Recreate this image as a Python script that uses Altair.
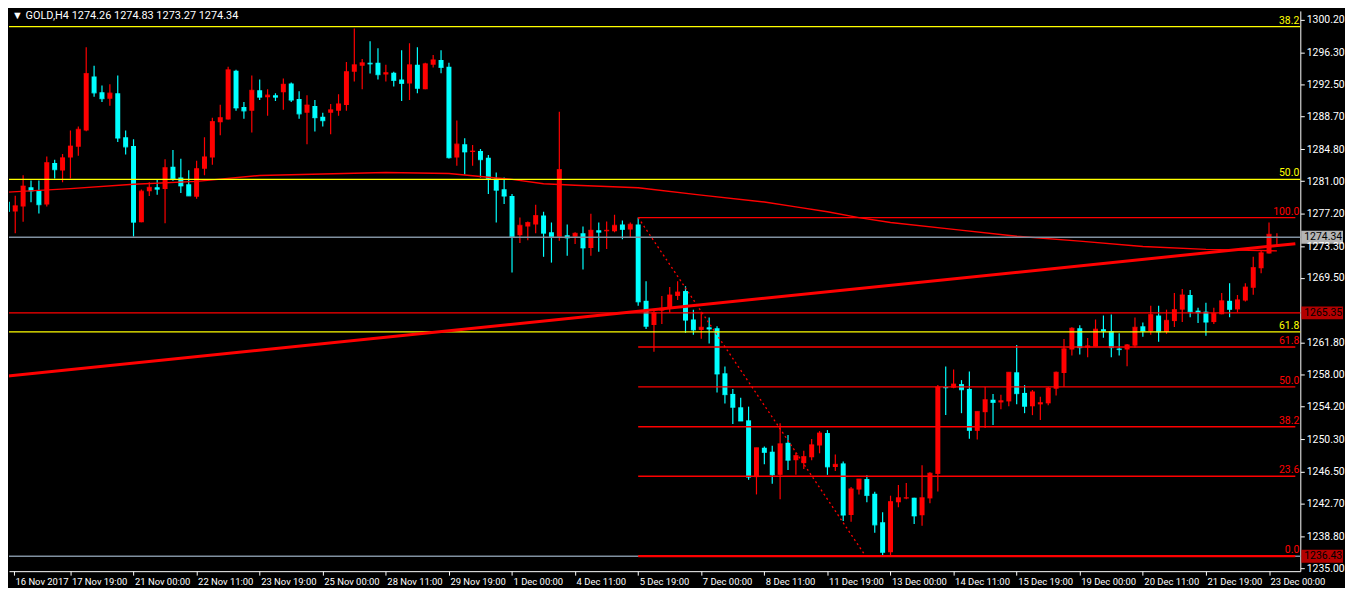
import altair as alt
import pandas as pd

# ---------------- data (GOLD, H4) ----------------
opens = [1278.58, 1277.41, 1277.99, 1280.29, 1279.90, 1278.23, 1283.17, 1282.27, 1283.82, 1285.10,
         1287.05, 1293.45, 1291.59, 1290.81, 1291.47, 1286.22, 1285.18, 1276.13, 1279.82, 1280.29,
         1280.09, 1282.74, 1281.46, 1280.64, 1279.16, 1282.50, 1283.82, 1288.01, 1288.33, 1294.15,
         1289.84, 1289.37, 1291.82, 1291.00, 1291.24, 1291.59, 1292.63, 1290.77, 1289.14, 1289.96,
         1288.68, 1289.14, 1289.37, 1290.07, 1294.03, 1294.73, 1295.08, 1295.08, 1293.68, 1293.91,
         1293.10, 1292.63, 1294.85, 1291.94, 1294.85, 1295.43, 1294.61, 1283.82, 1285.41, 1284.48,
         1284.60, 1283.79, 1281.34, 1280.05, 1279.24, 1274.59, 1275.63, 1275.87, 1276.92, 1274.94,
         1274.39, 1274.59, 1274.39, 1274.82, 1273.07, 1275.17, 1275.05, 1275.05, 1275.87, 1275.28,
         1275.87, 1266.79, 1263.91, 1265.62, 1265.89, 1267.37, 1267.95, 1264.57, 1263.33, 1263.64,
         1263.53, 1258.17, 1255.72, 1254.13, 1252.58, 1245.83, 1249.32, 1248.85, 1246.10, 1249.91,
         1247.84, 1247.49, 1248.19, 1249.59, 1251.07, 1247.03, 1247.46, 1241.32, 1244.35, 1245.60,
         1243.85, 1240.47, 1236.89, 1242.84, 1243.30, 1243.38, 1241.29, 1243.30, 1246.21, 1256.54,
         1256.46, 1256.89, 1256.31, 1251.33, 1253.55, 1255.03, 1254.71, 1254.83, 1258.29, 1255.84,
         1254.25, 1254.48, 1254.60, 1256.34, 1258.21, 1261.00, 1263.53, 1261.23, 1261.35, 1263.41,
         1263.18, 1261.11, 1261.00, 1261.46, 1263.76, 1263.18, 1265.04, 1263.10, 1264.38, 1265.74,
         1267.48, 1265.62, 1265.50, 1264.26, 1265.19, 1266.79, 1265.77, 1266.82, 1268.34, 1270.66,
         1272.41, 1274.26]
highs = [1279.12, 1279.27, 1281.72, 1281.10, 1281.10, 1283.94, 1283.56, 1284.25, 1287.05, 1287.51,
         1296.94, 1294.73, 1292.40, 1292.52, 1293.56, 1287.05, 1286.00, 1280.02, 1280.87, 1281.26,
         1283.63, 1284.72, 1283.67, 1282.31, 1283.44, 1286.22, 1288.56, 1290.11, 1294.61, 1294.26,
         1290.42, 1293.56, 1293.10, 1291.94, 1291.47, 1293.22, 1292.75, 1291.70, 1291.24, 1290.65,
         1289.14, 1290.19, 1291.35, 1295.19, 1299.15, 1295.54, 1297.64, 1296.82, 1294.85, 1294.03,
         1296.59, 1297.41, 1296.94, 1295.08, 1296.01, 1296.59, 1295.08, 1288.21, 1286.11, 1285.30,
         1284.83, 1284.13, 1282.04, 1281.46, 1279.48, 1276.68, 1276.22, 1278.20, 1277.38, 1276.10,
         1289.26, 1275.87, 1274.94, 1275.63, 1277.15, 1276.10, 1276.22, 1277.03, 1276.33, 1276.10,
         1276.68, 1269.11, 1265.74, 1267.37, 1268.42, 1269.11, 1268.53, 1265.74, 1265.50, 1264.80,
         1263.76, 1258.98, 1256.31, 1255.26, 1254.21, 1249.32, 1249.47, 1249.56, 1252.23, 1250.84,
         1248.77, 1248.97, 1250.37, 1251.30, 1251.42, 1248.51, 1247.69, 1244.66, 1245.60, 1246.06,
         1244.08, 1241.64, 1243.62, 1244.90, 1245.13, 1243.38, 1247.23, 1246.41, 1256.77, 1258.98,
         1258.63, 1257.36, 1258.40, 1253.63, 1256.54, 1255.72, 1255.61, 1258.29, 1261.55, 1256.77,
         1256.19, 1255.38, 1256.54, 1258.40, 1262.25, 1263.64, 1263.87, 1262.36, 1264.57, 1265.04,
         1265.15, 1262.94, 1261.66, 1264.80, 1264.22, 1266.20, 1266.20, 1265.74, 1267.72, 1268.18,
         1268.07, 1265.97, 1266.55, 1265.97, 1267.72, 1268.88, 1267.48, 1268.88, 1272.02, 1272.84,
         1276.10, 1274.83]
lows = [1275.60, 1274.82, 1276.18, 1278.51, 1277.18, 1277.99, 1281.34, 1280.89, 1281.34, 1284.02,
        1286.96, 1291.04, 1290.42, 1289.99, 1285.67, 1284.17, 1274.43, 1276.13, 1279.24, 1279.39,
        1276.02, 1281.07, 1279.62, 1279.27, 1278.93, 1281.72, 1282.97, 1286.46, 1288.33, 1289.37,
        1288.44, 1286.81, 1290.65, 1288.79, 1290.54, 1289.49, 1290.42, 1288.44, 1285.41, 1286.93,
        1287.51, 1286.58, 1288.79, 1289.37, 1292.87, 1291.94, 1293.80, 1293.10, 1292.87, 1292.28,
        1290.54, 1290.65, 1291.47, 1291.94, 1294.53, 1293.83, 1283.70, 1282.85, 1281.81, 1282.85,
        1281.46, 1279.48, 1276.10, 1278.31, 1270.16, 1273.66, 1274.00, 1274.82, 1272.02, 1271.33,
        1273.92, 1272.14, 1273.54, 1270.51, 1272.14, 1272.61, 1272.96, 1274.94, 1274.12, 1274.35,
        1266.20, 1263.44, 1260.73, 1264.03, 1265.39, 1266.90, 1262.98, 1262.75, 1262.28, 1261.70,
        1255.88, 1254.59, 1252.15, 1252.50, 1245.51, 1243.77, 1247.37, 1245.05, 1243.19, 1246.68,
        1246.10, 1246.80, 1247.84, 1248.66, 1246.10, 1246.56, 1240.62, 1240.51, 1243.77, 1242.84,
        1239.23, 1236.43, 1236.43, 1242.25, 1243.19, 1240.27, 1240.04, 1242.72, 1244.12, 1253.20,
        1256.39, 1253.43, 1250.40, 1250.29, 1251.68, 1252.03, 1253.89, 1254.25, 1254.48, 1253.43,
        1253.20, 1252.62, 1254.36, 1255.53, 1256.57, 1260.30, 1260.42, 1260.07, 1261.35, 1262.40,
        1260.07, 1260.30, 1259.02, 1261.23, 1262.51, 1262.75, 1261.93, 1262.86, 1263.68, 1264.26,
        1264.84, 1264.14, 1262.63, 1264.03, 1265.19, 1264.84, 1265.42, 1266.70, 1267.52, 1270.08,
        1272.41, 1273.27]
closes = [1277.41, 1278.08, 1280.44, 1279.86, 1278.23, 1283.21, 1282.39, 1283.79, 1285.18, 1287.16,
          1293.80, 1291.51, 1290.81, 1291.47, 1286.14, 1285.10, 1276.13, 1279.82, 1280.29, 1280.05,
          1282.62, 1281.31, 1280.44, 1279.27, 1282.50, 1283.90, 1288.10, 1288.56, 1294.26, 1289.72,
          1289.37, 1291.82, 1291.00, 1291.24, 1291.00, 1292.52, 1290.65, 1289.02, 1290.07, 1288.56,
          1288.21, 1289.49, 1290.19, 1294.03, 1294.85, 1295.08, 1294.96, 1293.68, 1293.91, 1292.98,
          1292.63, 1294.85, 1292.05, 1294.96, 1295.43, 1294.53, 1283.82, 1285.41, 1284.48, 1284.60,
          1283.56, 1281.34, 1279.94, 1279.24, 1274.39, 1275.75, 1276.10, 1276.92, 1274.82, 1274.39,
          1282.39, 1274.27, 1274.82, 1273.07, 1275.17, 1274.94, 1275.17, 1275.75, 1275.28, 1275.87,
          1266.67, 1263.76, 1265.39, 1265.89, 1267.48, 1267.83, 1264.49, 1263.33, 1263.64, 1263.44,
          1258.09, 1255.64, 1254.13, 1252.50, 1245.83, 1249.32, 1248.77, 1246.10, 1249.79, 1247.84,
          1248.39, 1248.27, 1249.67, 1251.07, 1247.05, 1247.34, 1241.32, 1244.43, 1245.60, 1243.65,
          1240.16, 1236.89, 1242.92, 1243.38, 1243.38, 1241.21, 1243.38, 1246.29, 1256.54, 1256.46,
          1256.89, 1256.22, 1251.38, 1253.63, 1255.03, 1254.71, 1254.91, 1258.29, 1255.76, 1254.25,
          1255.96, 1254.68, 1256.42, 1258.29, 1261.08, 1263.53, 1261.23, 1261.43, 1263.41, 1263.18,
          1261.23, 1261.00, 1261.55, 1263.64, 1263.18, 1265.15, 1263.10, 1264.46, 1265.74, 1267.48,
          1265.50, 1265.39, 1264.26, 1265.31, 1266.79, 1265.77, 1266.90, 1268.42, 1270.74, 1272.49,
          1274.70, 1274.34]

date_labels = ["16 Nov 2017", "17 Nov 19:00", "21 Nov 00:00", "22 Nov 11:00", "23 Nov 19:00",
               "25 Nov 00:00", "28 Nov 11:00", "29 Nov 19:00", "1 Dec 00:00", "4 Dec 11:00",
               "5 Dec 19:00", "7 Dec 00:00", "8 Dec 11:00", "11 Dec 19:00", "13 Dec 00:00",
               "14 Dec 11:00", "15 Dec 19:00", "19 Dec 00:00", "20 Dec 11:00", "21 Dec 19:00",
               "23 Dec 00:00"]
price_ticks = [1300.20, 1296.30, 1292.50, 1288.70, 1284.80, 1281.00, 1277.20, 1273.30, 1269.50,
               1261.80, 1258.00, 1254.20, 1250.30, 1246.50, 1242.70, 1238.80, 1235.00]

# moving average (thin red line)
ma_bars = [0, 8, 16, 24, 32, 40, 48, 56, 60, 64, 68, 72, 80, 88, 96, 100, 104, 108, 112, 120,
           128, 136, 144, 152, 161]
ma_values = [1279.71, 1280.12, 1280.64, 1280.99, 1281.69, 1281.86, 1282.04, 1281.92, 1281.57,
             1281.22, 1280.70, 1280.52, 1280.23, 1279.36, 1278.54, 1277.96, 1277.38, 1276.68,
             1276.10, 1275.28, 1274.47, 1273.89, 1273.25, 1272.90, 1272.72]

# red Fibonacci retracement (anchored at bar 80)
fib_red_names = ["0.0", "23.6", "38.2", "50.0", "61.8", "100.0"]
fib_red_prices = [1236.43, 1245.93, 1251.81, 1256.56, 1261.30, 1276.68]
fib_red_start = 80
# yellow Fibonacci (anchored off-screen to the left)
fib_yel_names = ["38.2", "50.0", "61.8"]
fib_yel_prices = [1299.39, 1281.22, 1263.10]

hline_price = 1265.35
bid_price = 1274.34
gray_low_price = 1236.43

trend_bars = [0, 163.34]
trend_prices = [1257.83, 1273.58]
diag_bars = [80, 108.85]
diag_prices = [1276.68, 1236.43]

header = "\u25bc GOLD,H4  1274.26 1274.83 1273.27 1274.34"

# ---------------- layout ----------------
W, H = 1300, 564
X0, X1 = 0.8375, 163.3375
Y0, Y1 = 1234.65, 1301.25
RED, CYAN, YEL, GRAY, WHITE = "#ff0000", "#00ffff", "#ffff00", "#8090a0", "#ffffff"
FONT = "Roboto"
LW = 1.4

xs = alt.Scale(domain=[X0, X1], nice=False, zero=False)
ys = alt.Scale(domain=[Y0, Y1], nice=False, zero=False)

label_js = "[" + ",".join("'%s'" % s for s in date_labels) + "]"
x_axis = alt.Axis(values=[X0] + [8 * i for i in range(1, len(date_labels))],
                  labelExpr=label_js + "[round(datum.value/8)]",
                  orient="bottom", title=None, grid=False,
                  domainColor=WHITE, tickColor=WHITE, tickSize=4,
                  labelColor=WHITE, labelFont=FONT, labelFontSize=9.5,
                  labelAlign="left", labelBaseline="top", labelOffset=1,
                  labelPadding=1, labelOverlap=False, labelFlush=False)
y_axis = alt.Axis(values=price_ticks, format=".2f", orient="right", title=None, grid=False,
                  domainColor=WHITE, tickColor=WHITE, tickSize=4,
                  labelColor=WHITE, labelFont=FONT, labelFontSize=10.5,
                  labelPadding=2, labelOverlap=False, labelFlush=False)

df = pd.DataFrame({"bar": list(range(len(opens))), "open": opens, "high": highs,
                   "low": lows, "close": closes})
df["col"] = [RED if c >= o else CYAN for o, c in zip(opens, closes)]

X = alt.X("bar:Q", scale=xs, axis=x_axis)
base = alt.Chart(df)

wicks = base.mark_rule(strokeWidth=1.2, clip=True).encode(
    x=X, y=alt.Y("low:Q", scale=ys, axis=y_axis), y2="high:Q",
    color=alt.Color("col:N", scale=None))
bodies = base.mark_bar(size=5, clip=True).encode(
    x=X, y=alt.Y("open:Q", scale=ys, axis=y_axis), y2="close:Q",
    color=alt.Color("col:N", scale=None))
dojis = base.mark_tick(orient="horizontal", size=5, thickness=1.2, clip=True).encode(
    x=X, y=alt.Y("close:Q", scale=ys, axis=y_axis),
    color=alt.Color("col:N", scale=None))

# full-width horizontal lines
full_df = pd.DataFrame({"price": fib_yel_prices + [bid_price, gray_low_price, hline_price],
                        "c": [YEL] * 3 + [GRAY, GRAY, RED]})
full_lines = alt.Chart(full_df).mark_rule(strokeWidth=LW).encode(
    y=alt.Y("price:Q", scale=ys, axis=y_axis), color=alt.Color("c:N", scale=None))

# red fib levels from anchor bar to right edge
fib_df = pd.DataFrame({"price": fib_red_prices, "start": [fib_red_start] * len(fib_red_prices),
                       "end": [X1] * len(fib_red_prices),
                       "w": [2.2] + [LW] * (len(fib_red_prices) - 1)})
fib_lines = alt.Chart(fib_df).mark_rule(color=RED, clip=True).encode(
    x=alt.X("start:Q", scale=xs, axis=x_axis), x2="end:Q",
    y=alt.Y("price:Q", scale=ys, axis=y_axis),
    strokeWidth=alt.StrokeWidth("w:Q", scale=None))

ma_df = pd.DataFrame({"bar": ma_bars, "ma": ma_values})
ma_line = alt.Chart(ma_df).mark_line(color=RED, strokeWidth=LW, clip=True).encode(
    x=alt.X("bar:Q", scale=xs, axis=x_axis), y=alt.Y("ma:Q", scale=ys, axis=y_axis))

tr_df = pd.DataFrame({"bar": trend_bars, "p": trend_prices})
trend = alt.Chart(tr_df).mark_line(color=RED, strokeWidth=3, clip=True).encode(
    x=alt.X("bar:Q", scale=xs, axis=x_axis), y=alt.Y("p:Q", scale=ys, axis=y_axis))

dg_df = pd.DataFrame({"bar": diag_bars, "p": diag_prices})
diag = alt.Chart(dg_df).mark_line(color=RED, strokeWidth=1.3, strokeDash=[2, 3], clip=True).encode(
    x=alt.X("bar:Q", scale=xs, axis=x_axis), y=alt.Y("p:Q", scale=ys, axis=y_axis))

# fib labels at right edge
lab_df = pd.DataFrame({"name": fib_yel_names + fib_red_names,
                       "price": fib_yel_prices + fib_red_prices,
                       "c": [YEL] * 3 + [RED] * len(fib_red_names)})
fib_text = alt.Chart(lab_df).mark_text(align="right", baseline="bottom", dy=-1,
                                       font=FONT, fontSize=10.5).encode(
    x=alt.value(W - 1), y=alt.Y("price:Q", scale=ys, axis=y_axis),
    text="name:N", color=alt.Color("c:N", scale=None))

# price boxes on the right scale
box_df = pd.DataFrame({"price": [bid_price, hline_price, gray_low_price],
                       "bg": [WHITE, RED, RED]})
box_df["txt"] = ["%.2f" % p for p in box_df["price"]]
boxes = alt.Chart(box_df).mark_tick(orient="horizontal", size=42, thickness=13).encode(
    x=alt.value(W + 22), y=alt.Y("price:Q", scale=ys, axis=y_axis),
    color=alt.Color("bg:N", scale=None))
box_text = alt.Chart(box_df).mark_text(align="left", baseline="middle", font=FONT,
                                       fontSize=10.5, color="#000000").encode(
    x=alt.value(W + 4), y=alt.Y("price:Q", scale=ys, axis=y_axis), text="txt:N")

head = alt.Chart(pd.DataFrame({"t": [header]})).mark_text(
    align="left", baseline="middle", font=FONT, fontSize=11, color=WHITE).encode(
    x=alt.value(3), y=alt.value(5), text="t:N")

chart = alt.layer(wicks, bodies, dojis, ma_line, full_lines, fib_lines, trend, diag,
                  fib_text, boxes, box_text, head).properties(
    width=W, height=H, padding=0, background="#000000"
).configure_view(strokeWidth=0)

chart.save("out.html", embed_options={"renderer": "svg", "actions": False})
